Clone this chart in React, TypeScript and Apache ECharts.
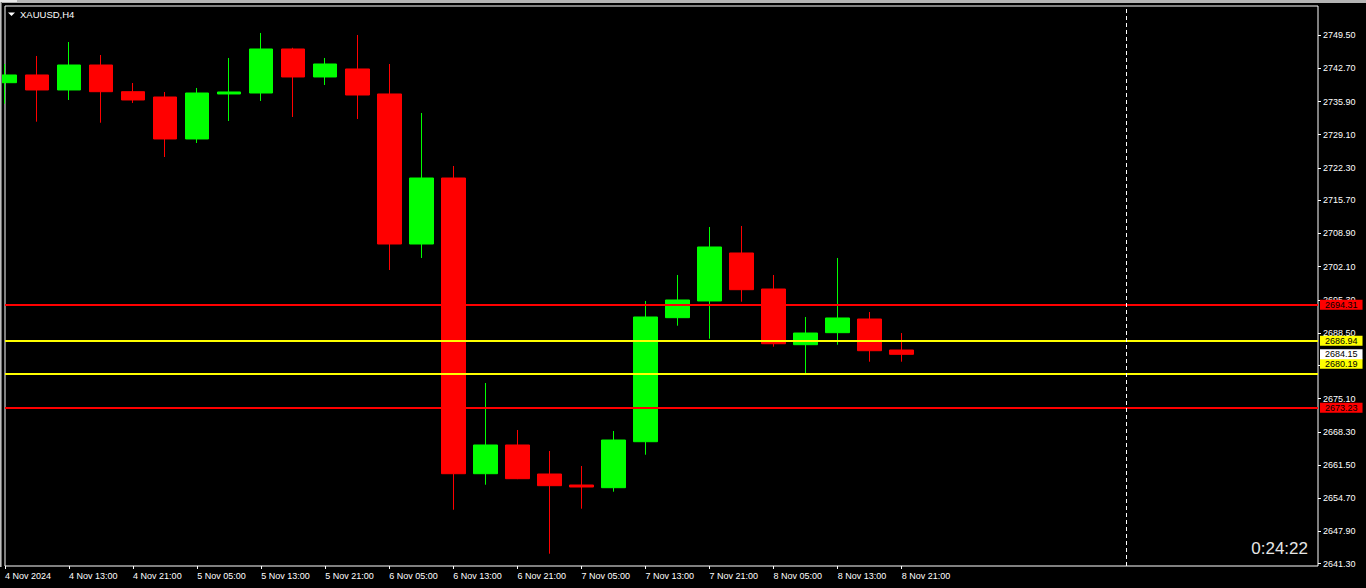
import React, { useEffect, useRef } from 'react';
import * as echarts from 'echarts';

const symbolTitle = 'XAUUSD,H4';
const timerText = '0:24:22';

// H4 bar times (first label shows the date)
const barTimes = [
  '4 Nov 2024', '4 Nov 09:00', '4 Nov 13:00', '4 Nov 17:00', '4 Nov 21:00', '5 Nov 01:00',
  '5 Nov 05:00', '5 Nov 09:00', '5 Nov 13:00', '5 Nov 17:00', '5 Nov 21:00', '6 Nov 01:00',
  '6 Nov 05:00', '6 Nov 09:00', '6 Nov 13:00', '6 Nov 17:00', '6 Nov 21:00', '7 Nov 01:00',
  '7 Nov 05:00', '7 Nov 09:00', '7 Nov 13:00', '7 Nov 17:00', '7 Nov 21:00', '8 Nov 01:00',
  '8 Nov 05:00', '8 Nov 09:00', '8 Nov 13:00', '8 Nov 17:00', '8 Nov 21:00',
];
// empty future slots to the right of the last bar
const futureSlots = ['+1', '+2', '+3', '+4', '+5', '+6', '+7', '+8', '+9', '+10', '+11', '+12', '+13'];

const opens = [2739.75, 2741.33, 2738.26, 2743.37, 2737.91, 2736.82, 2728.23, 2737.44, 2737.64, 2746.65, 2740.92, 2742.56, 2737.44, 2706.73, 2720.24, 2659.71, 2665.59, 2659.65, 2657.40, 2656.85, 2666.26, 2691.65, 2695.07, 2704.89, 2697.52, 2686.12, 2688.58, 2691.38, 2685.03];
const closes = [2741.33, 2738.26, 2743.37, 2737.91, 2736.21, 2728.23, 2737.64, 2737.85, 2746.65, 2740.92, 2743.58, 2737.23, 2706.73, 2720.24, 2659.71, 2665.59, 2658.69, 2657.26, 2656.99, 2666.61, 2691.79, 2695.27, 2706.12, 2697.38, 2686.32, 2688.51, 2691.59, 2684.89, 2684.15];
const lows = [2735.45, 2731.77, 2736.21, 2731.56, 2735.60, 2724.54, 2727.41, 2731.91, 2736.01, 2732.73, 2739.28, 2732.32, 2701.41, 2703.87, 2652.34, 2657.46, 2658.60, 2643.34, 2652.55, 2656.03, 2663.60, 2690.01, 2687.35, 2694.92, 2685.71, 2680.12, 2686.12, 2682.64, 2682.64];
const highs = [2743.58, 2745.22, 2748.08, 2745.42, 2739.69, 2737.85, 2738.67, 2744.81, 2749.93, 2746.90, 2744.81, 2749.52, 2743.58, 2733.55, 2722.70, 2678.28, 2668.66, 2664.36, 2661.29, 2668.45, 2695.07, 2700.39, 2710.21, 2710.42, 2700.39, 2691.79, 2703.87, 2692.81, 2688.51];

const priceTicks = [2749.5, 2742.7, 2735.9, 2729.1, 2722.3, 2715.7, 2708.9, 2702.1, 2695.3, 2688.5, 2681.9, 2675.1, 2668.3, 2661.5, 2654.7, 2647.9, 2641.3];

const redLevels = [2694.31, 2673.23];
const yellowLevels = [2686.94, 2680.19];
const bidPrice = 2684.15;
const separatorSlot = 35;

const priceMin = 2640.82;
const priceMax = 2755.45;

const FONT = 'Liberation Sans, Arial, sans-serif';

export default function App() {
  const ref = useRef<HTMLDivElement>(null);

  useEffect(() => {
    document.body.style.margin = '0';
    document.body.style.background = '#000';
    if (!ref.current) return;
    const chart = echarts.init(ref.current, undefined, { renderer: 'svg' });

    const categories = [...barTimes, ...futureSlots];
    const lastIdx = barTimes.length - 1;
    const showIdx = (i: number) => i % 2 === 0 && i <= lastIdx;
    const candles = opens.map((o, i) => [o, closes[i], lows[i], highs[i]]);

    const levelLabel = (bg: string, offsetY = 0) => ({
      show: true,
      position: 'end',
      distance: 2,
      formatter: (p: any) => Number(p.value).toFixed(2),
      backgroundColor: bg,
      color: '#000',
      fontSize: 9,
      fontFamily: FONT,
      lineHeight: 10,
      padding: [0, 5, 0, 5],
      offset: [0, offsetY],
    });

    const markData: any[] = [];
    redLevels.forEach((p) =>
      markData.push({ yAxis: p, lineStyle: { color: '#ff0000', width: 2, type: 'solid' }, label: levelLabel('#ff0000') })
    );
    yellowLevels.forEach((p, i) =>
      markData.push({ yAxis: p, lineStyle: { color: '#ffff00', width: 2, type: 'solid' }, label: levelLabel('#ffff00', i === 1 ? -10 : 0) })
    );
    markData.push({ yAxis: bidPrice, lineStyle: { color: 'rgba(0,0,0,0)', width: 1 }, label: levelLabel('#ffffff') });
    markData.push({ xAxis: separatorSlot, lineStyle: { color: '#ffffff', width: 1, type: [4, 3] }, label: { show: false } });

    chart.setOption({
      animation: false,
      backgroundColor: '#000',
      grid: { left: 5, right: 48, top: 6, bottom: 22, show: true, borderColor: '#ffffff', borderWidth: 1, backgroundColor: 'transparent' },
      xAxis: {
        type: 'category',
        data: categories,
        boundaryGap: false,
        axisLine: { show: false },
        splitLine: { show: false },
        axisTick: { show: true, length: 3, interval: (i: number) => showIdx(i), lineStyle: { color: '#ffffff' } },
        axisLabel: {
          interval: (i: number) => showIdx(i),
          align: 'left',
          color: '#ffffff',
          fontSize: 9,
          fontFamily: FONT,
          margin: 5,
        },
      },
      yAxis: {
        type: 'value',
        position: 'right',
        min: priceMin,
        max: priceMax,
        scale: true,
        axisLine: { show: false },
        splitLine: { show: false },
        axisTick: { show: true, length: 3, customValues: priceTicks, lineStyle: { color: '#ffffff' } },
        axisLabel: {
          customValues: priceTicks,
          formatter: (v: number) => v.toFixed(2),
          color: '#ffffff',
          fontSize: 9,
          fontFamily: FONT,
          margin: 5,
        },
      },
      series: [
        {
          type: 'candlestick',
          data: candles,
          barWidth: 24,
          clip: true,
          silent: true,
          itemStyle: {
            color: '#00ff00',
            color0: '#ff0000',
            borderColor: '#00ff00',
            borderColor0: '#ff0000',
            borderWidth: 1,
          },
          markLine: {
            symbol: 'none',
            silent: true,
            animation: false,
            data: markData,
          },
        },
      ],
      graphic: [
        { type: 'rect', shape: { x: 0, y: 0, width: 1366, height: 3 }, style: { fill: '#b4b4b4' }, z: 100 },
        { type: 'rect', shape: { x: 0, y: 0, width: 17, height: 2 }, style: { fill: '#e8e8e8' }, z: 101 },
        { type: 'rect', shape: { x: 0, y: 0, width: 1, height: 567 }, style: { fill: '#c0c0c0' }, z: 100 },
        { type: 'rect', shape: { x: 1, y: 0, width: 1, height: 567 }, style: { fill: '#707070' }, z: 100 },
        { type: 'polygon', shape: { points: [[8, 12.5], [15, 12.5], [11.5, 16]] }, style: { fill: '#ffffff' }, z: 100 },
        {
          type: 'text', x: 20, y: 14.5, z: 100,
          style: { text: symbolTitle, fill: '#ffffff', fontSize: 9.5, fontFamily: FONT, verticalAlign: 'middle' },
        },
        {
          type: 'text', x: 1308, y: 548, z: 100,
          style: { text: timerText, fill: '#e6e6e6', fontSize: 17, fontFamily: FONT, align: 'right', verticalAlign: 'middle' },
        },
      ],
    });

    return () => chart.dispose();
  }, []);

  return <div ref={ref} style={{ width: 1366, height: 588, background: '#000' }} />;
}
